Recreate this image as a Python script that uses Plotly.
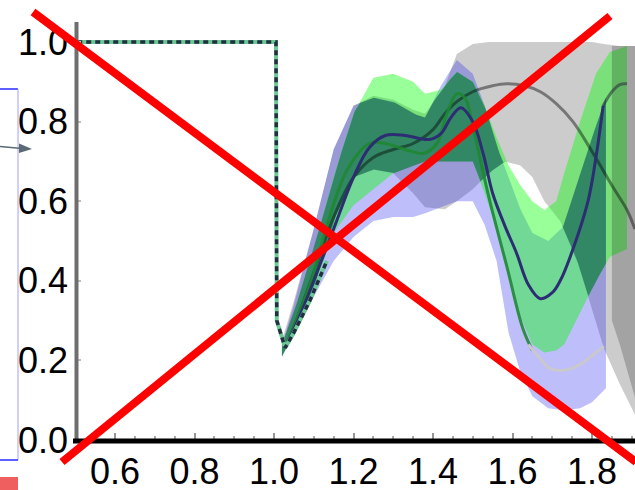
import numpy as np
import plotly.graph_objects as go

# ---------------- data ----------------
# reference (gray) series band and mean
gray_x  = [1.02, 1.05, 1.10, 1.15, 1.20, 1.25, 1.30, 1.35, 1.38, 1.43, 1.46, 1.50, 1.54, 1.58, 1.62, 1.65, 1.68, 1.72, 1.76, 1.80, 1.83, 1.87, 1.91]
gray_up = [0.25, 0.35, 0.53, 0.73, 0.84, 0.865, 0.855, 0.83, 0.82, 0.89, 0.97, 0.995, 1.0, 1.0, 1.0, 1.0, 1.0, 1.0, 1.0, 1.0, 0.995, 0.99, 0.99]
gray_lo = [0.21, 0.27, 0.38, 0.55, 0.66, 0.68, 0.67, 0.62, 0.585, 0.58, 0.60, 0.63, 0.67, 0.70, 0.69, 0.66, 0.60, 0.55, 0.46, 0.33, 0.23, 0.14, 0.06]
gray_mean_x = [1.028, 1.06, 1.10, 1.15, 1.20, 1.25, 1.30, 1.35, 1.40, 1.43, 1.46, 1.50, 1.55, 1.586, 1.63, 1.67, 1.71, 1.752, 1.80, 1.853, 1.888, 1.908]
gray_mean   = [0.23, 0.31, 0.42, 0.56, 0.66, 0.71, 0.73, 0.745, 0.78, 0.82, 0.85, 0.875, 0.89, 0.895, 0.89, 0.875, 0.845, 0.80, 0.725, 0.635, 0.578, 0.53]
# extra gray layer at the right edge
tail_x  = [1.85, 1.87, 1.91]
tail_up = [0.99, 0.99, 0.99]
tail_lo = [0.30, 0.24, 0.10]

# blue series
blue_x  = [1.02, 1.05, 1.10, 1.15, 1.20, 1.25, 1.30, 1.35, 1.38, 1.42, 1.46, 1.50, 1.53, 1.56, 1.59, 1.62, 1.65, 1.69, 1.727, 1.77, 1.80, 1.835]
blue_up = [0.24, 0.34, 0.53, 0.73, 0.84, 0.86, 0.85, 0.82, 0.81, 0.89, 0.955, 0.92, 0.84, 0.74, 0.66, 0.58, 0.52, 0.50, 0.535, 0.67, 0.76, 0.86]
blue_lo = [0.21, 0.26, 0.36, 0.45, 0.51, 0.55, 0.56, 0.56, 0.57, 0.585, 0.60, 0.60, 0.54, 0.45, 0.27, 0.17, 0.11, 0.08, 0.075, 0.08, 0.095, 0.13]
blue_mean_x = [1.028, 1.06, 1.10, 1.15, 1.20, 1.24, 1.28, 1.33, 1.39, 1.42, 1.445, 1.47, 1.50, 1.526, 1.55, 1.58, 1.61, 1.64, 1.67, 1.70, 1.72, 1.745, 1.79, 1.813, 1.828]
blue_mean   = [0.23, 0.30, 0.40, 0.53, 0.66, 0.735, 0.765, 0.765, 0.755, 0.77, 0.81, 0.835, 0.80, 0.72, 0.62, 0.54, 0.47, 0.39, 0.355, 0.37, 0.40, 0.46, 0.60, 0.73, 0.84]
blue_tail_x = [1.828, 1.85, 1.87, 1.888]
blue_tail   = [0.84, 0.875, 0.893, 0.895]

# green series
green_x  = [1.02, 1.05, 1.10, 1.15, 1.20, 1.25, 1.30, 1.35, 1.38, 1.42, 1.46, 1.50, 1.53, 1.56, 1.59, 1.62, 1.65, 1.68, 1.71, 1.73, 1.77, 1.81, 1.845, 1.888]
green_up = [0.24, 0.32, 0.48, 0.66, 0.82, 0.91, 0.92, 0.90, 0.87, 0.88, 0.925, 0.90, 0.84, 0.76, 0.69, 0.64, 0.60, 0.578, 0.60, 0.67, 0.80, 0.92, 0.975, 0.99]
green_lo = [0.21, 0.27, 0.38, 0.52, 0.59, 0.63, 0.67, 0.69, 0.70, 0.70, 0.70, 0.70, 0.62, 0.53, 0.42, 0.31, 0.24, 0.22, 0.225, 0.24, 0.32, 0.40, 0.46, 0.48]
green_mean_x = [1.028, 1.06, 1.10, 1.135, 1.185, 1.24, 1.28, 1.33, 1.375, 1.41, 1.435, 1.46, 1.48, 1.50, 1.52, 1.543, 1.586, 1.626, 1.65]
green_mean   = [0.23, 0.31, 0.42, 0.545, 0.68, 0.745, 0.745, 0.73, 0.72, 0.745, 0.82, 0.87, 0.86, 0.79, 0.70, 0.60, 0.435, 0.28, 0.225]
pale_x = [1.64, 1.669, 1.694, 1.73, 1.77, 1.81, 1.83]
pale_y = [0.24, 0.205, 0.18, 0.175, 0.19, 0.22, 0.235]

# step (dashed) curve
step_x = [0.505, 1.005, 1.007, 1.028, 1.05, 1.09, 1.133]
step_y = [1.0, 1.0, 0.30, 0.232, 0.27, 0.35, 0.45]

x_ticks = [0.6, 0.8, 1.0, 1.2, 1.4, 1.6, 1.8]
y_ticks = [0.0, 0.2, 0.4, 0.6, 0.8, 1.0]

# ---------------- figure ----------------
W, H = 635, 490
L, R, T, B = 77, 0, 0, 50
PW, PH = W - L - R, H - T - B

def px(x):
    return (x - L) / PW

def py(y):
    return (H - B - y) / PH

fig = go.Figure()

def band(xs, lo, up, color):
    fig.add_trace(go.Scatter(x=xs, y=lo, mode="lines", line=dict(width=0), hoverinfo="skip"))
    fig.add_trace(go.Scatter(x=xs, y=up, mode="lines", line=dict(width=0), fill="tonexty",
                             fillcolor=color, hoverinfo="skip"))

band(gray_x, gray_lo, gray_up, "rgba(0,0,0,0.2)")
band(blue_x, blue_lo, blue_up, "rgba(40,40,240,0.3)")
band(green_x, green_lo, green_up, "rgba(0,255,0,0.4)")

# region where all three bands overlap (darker)
xs = np.linspace(1.02, 1.835, 500)
lo3 = np.maximum.reduce([np.interp(xs, gray_x, gray_lo), np.interp(xs, blue_x, blue_lo), np.interp(xs, green_x, green_lo)])
up3 = np.minimum.reduce([np.interp(xs, gray_x, gray_up), np.interp(xs, blue_x, blue_up), np.interp(xs, green_x, green_up)])
up3 = np.maximum(up3, lo3)
band(xs, lo3, up3, "rgba(7,75,71,0.5)")

band(tail_x, tail_lo, tail_up, "rgba(0,0,0,0.2)")

# mean lines
fig.add_trace(go.Scatter(x=gray_mean_x, y=gray_mean, mode="lines", line=dict(color="rgba(0,0,0,0.42)", width=3, shape="spline")))
fig.add_trace(go.Scatter(x=green_mean_x, y=green_mean, mode="lines", line=dict(color="rgba(30,135,50,0.9)", width=3, shape="spline")))
fig.add_trace(go.Scatter(x=pale_x, y=pale_y, mode="lines", line=dict(color="rgb(200,200,205)", width=3, shape="spline")))
fig.add_trace(go.Scatter(x=blue_mean_x, y=blue_mean, mode="lines", line=dict(color="rgb(45,45,115)", width=3, shape="spline")))
fig.add_trace(go.Scatter(x=blue_tail_x, y=blue_tail, mode="lines", line=dict(color="rgba(40,40,60,0.55)", width=3, shape="spline")))

# step curve: green under-line with dark dashes
fig.add_trace(go.Scatter(x=step_x, y=step_y, mode="lines", line=dict(color="rgb(110,200,150)", width=4)))
fig.add_trace(go.Scatter(x=step_x, y=step_y, mode="lines", line=dict(color="rgba(20,20,50,0.85)", width=3.5, dash="5px,4px")))

shapes = []
# axis lines
shapes.append(dict(type="line", xref="paper", yref="paper", x0=px(76.5), x1=px(76.5), y0=py(22), y1=py(440),
                   line=dict(color="rgb(110,110,110)", width=4)))
shapes.append(dict(type="line", xref="paper", yref="paper", x0=px(73), x1=px(635), y0=py(441), y1=py(441),
                   line=dict(color="black", width=5)))
# left-side artifacts
shapes.append(dict(type="line", xref="paper", yref="paper", x0=px(0), x1=px(18), y0=py(89), y1=py(89),
                   line=dict(color="rgb(40,40,255)", width=1.5)))
shapes.append(dict(type="line", xref="paper", yref="paper", x0=px(18), x1=px(18), y0=py(89), y1=py(460),
                   line=dict(color="rgb(160,160,255)", width=1)))
shapes.append(dict(type="line", xref="paper", yref="paper", x0=px(0), x1=px(18), y0=py(460), y1=py(460),
                   line=dict(color="rgb(40,40,255)", width=1.5)))
shapes.append(dict(type="line", xref="paper", yref="paper", x0=px(0), x1=px(22), y0=py(146.5), y1=py(148.5),
                   line=dict(color="rgb(90,105,115)", width=1.5)))
shapes.append(dict(type="path", xref="paper", yref="paper",
                   path=f"M {px(19)} {py(143.5)} L {px(32)} {py(149)} L {px(19)} {py(153)} Z",
                   fillcolor="rgb(90,105,115)", line=dict(width=0)))
shapes.append(dict(type="rect", xref="paper", yref="paper", x0=px(0), x1=px(18), y0=py(477), y1=py(490),
                   fillcolor="rgb(240,95,95)", line=dict(width=0)))
# red cross
shapes.append(dict(type="line", xref="paper", yref="paper", x0=px(33), y0=py(12), x1=px(636), y1=py(462),
                   line=dict(color="rgb(255,0,0)", width=8)))
shapes.append(dict(type="line", xref="paper", yref="paper", x0=px(62), y0=py(462), x1=px(610), y1=py(16),
                   line=dict(color="rgb(255,0,0)", width=8)))

tickfont = dict(family="Liberation Sans, Arial, sans-serif", size=36, color="black")
fig.update_layout(
    width=W, height=H, autosize=False,
    margin=dict(l=L, r=R, t=T, b=B, pad=0, autoexpand=False),
    paper_bgcolor="white", plot_bgcolor="white",
    showlegend=False, hovermode=False,
    shapes=shapes,
    xaxis=dict(range=[0.6 + (L - 115) / 397.5, 0.6 + (W - 115) / 397.5],
               tickvals=x_ticks, ticktext=[f"{v:.1f}" for v in x_ticks],
               showgrid=False, zeroline=False, showline=False, automargin=False,
               ticks="inside", ticklen=7, tickwidth=2, tickcolor="rgb(150,150,150)",
               minor=dict(dtick=0.05, tick0=0.6, ticks="inside", ticklen=4, tickwidth=2, tickcolor="rgb(170,170,170)"),
               tickfont=tickfont, ticklabelstandoff=7),
    yaxis=dict(range=[0, 440 / 398],
               tickvals=y_ticks, ticktext=[f"{v:.1f}" for v in y_ticks],
               showgrid=False, zeroline=False, showline=False, automargin=False,
               ticks="inside", ticklen=4, tickwidth=2, tickcolor="rgb(190,190,190)",
               tickfont=tickfont, ticklabelstandoff=8),
)

fig.write_html("out.html")
